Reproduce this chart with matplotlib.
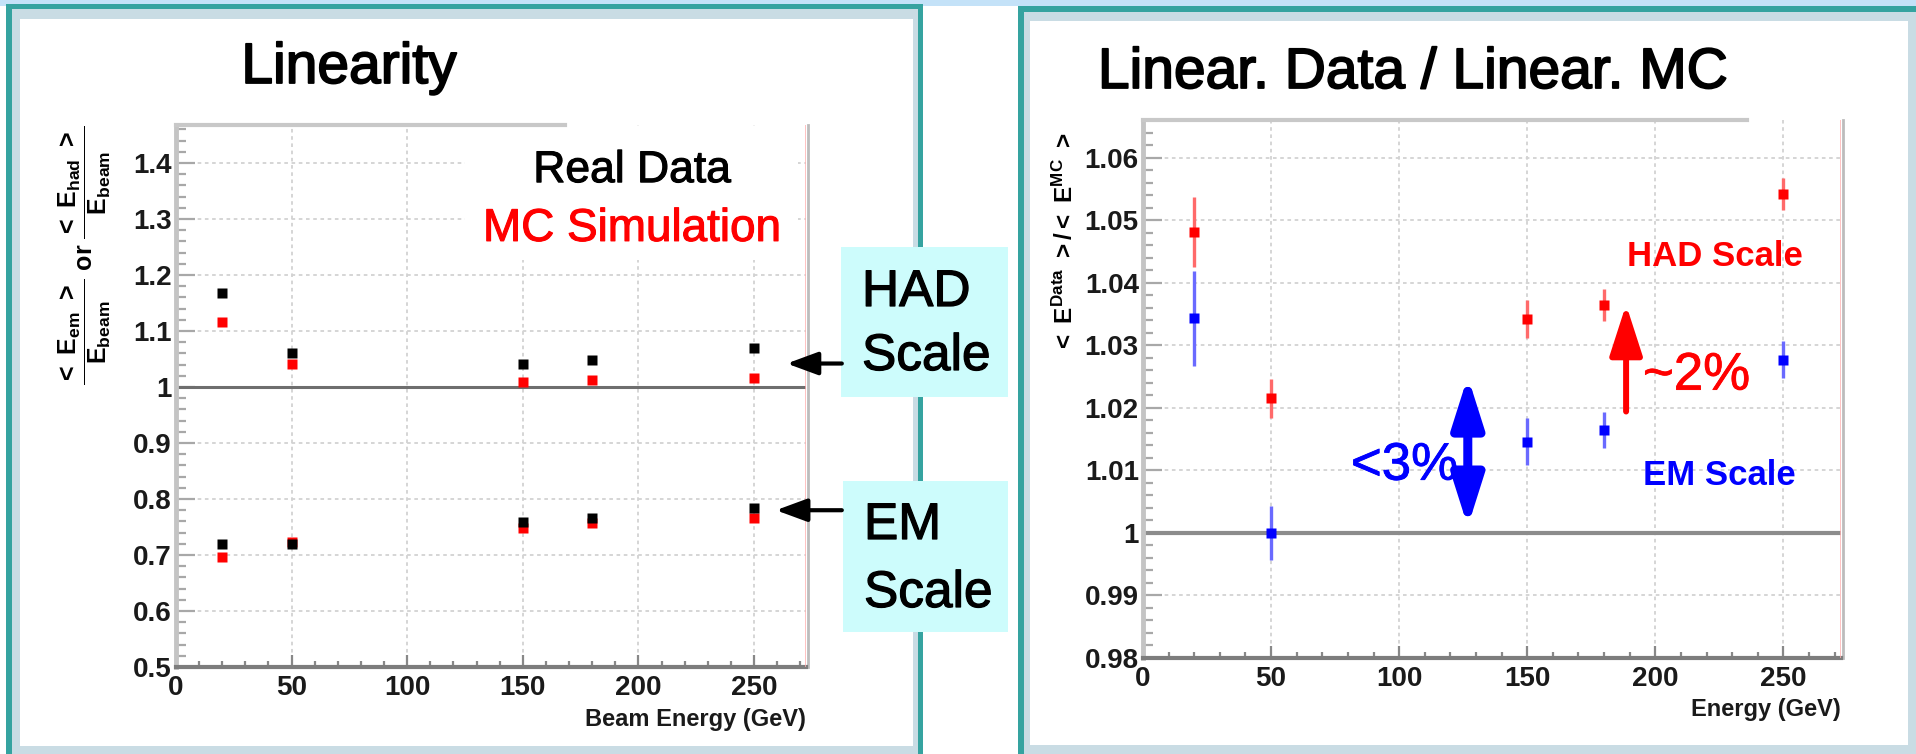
import matplotlib
matplotlib.use('Agg')
import matplotlib.pyplot as plt
import matplotlib.patheffects as pe
from matplotlib.patches import Rectangle, FancyArrowPatch, ArrowStyle
from matplotlib.ticker import MultipleLocator, FuncFormatter

plt.rcParams['font.family'] = ['Liberation Sans', 'DejaVu Sans']
plt.rcParams['mathtext.fontset'] = 'custom'
plt.rcParams['mathtext.rm'] = 'Liberation Sans:bold'
plt.rcParams['mathtext.it'] = 'Liberation Sans:bold'
plt.rcParams['mathtext.bf'] = 'Liberation Sans:bold'

# ---------------- data ----------------
energies = [20, 50, 150, 180, 250]
had_data = [1.168, 1.061, 1.042, 1.048, 1.070]
had_mc = [1.117, 1.042, 1.009, 1.0125, 1.016]
em_data = [0.720, 0.720, 0.7595, 0.7666, 0.7845]
em_mc = [0.697, 0.723, 0.748, 0.7566, 0.7655]

ratio_had = [1.0481, 1.0215, 1.0342, 1.0364, 1.0542]
ratio_had_err = [0.0056, 0.0031, 0.0031, 0.0026, 0.0026]
ratio_em = [1.0343, 1.0000, 1.0146, 1.0164, 1.0277]
ratio_em_err = [0.0076, 0.0043, 0.0037, 0.0029, 0.0029]

left_title = 'Linearity'
right_title = 'Linear. Data / Linear. MC'
left_xlabel = 'Beam Energy (GeV)'
right_xlabel = 'Energy (GeV)'
left_ylabel = (r'$\dfrac{<\ \mathrm{E}_{\mathrm{em}}\ >}{\mathrm{E}_{\mathrm{beam}}}$ or '
               r'$\dfrac{<\ \mathrm{E}_{\mathrm{had}}\ >}{\mathrm{E}_{\mathrm{beam}}}$')
right_ylabel = r'$<\ \mathrm{E}^{\mathrm{Data}}\ >/<\ \mathrm{E}^{\mathrm{MC}}\ >$'

TICK_FONT = ['Liberation Sans Narrow', 'Liberation Sans']

# ---------------- figure ----------------
W, H = 1916, 754
fig = plt.figure(figsize=(W / 100, H / 100), dpi=100)
fig.patch.set_facecolor('white')

bg = fig.add_axes([0, 0, 1, 1], zorder=0)
bg.set_xlim(0, W)
bg.set_ylim(H, 0)
bg.axis('off')

TEAL = '#35a3a0'
BAND = '#c9dce4'
CYAN = '#cdfcfc'


def heavy(color='black', w=1.0):
    return [pe.withStroke(linewidth=w, foreground=color)]


def rect(x0, y0, x1, y1, color):
    bg.add_patch(Rectangle((x0, y0), x1 - x0, y1 - y0, facecolor=color,
                           edgecolor='none'))


rect(0, 0, W, 6, '#c4e2f8')
# left panel frame
rect(6, 4, 923, H, TEAL)
rect(12, 9, 918, H, BAND)
rect(20, 19, 913, 746, 'white')
# right panel frame
rect(1018, 6, W, H, TEAL)
rect(1024, 12, W, H, BAND)
rect(1030, 21, 1908, 745, 'white')
# cyan boxes
rect(841, 247, 1008, 397, CYAN)
rect(843, 481, 1008, 632, CYAN)

for (x, y, s) in [(862, 306, 'HAD'), (862, 370, 'Scale'),
                  (864, 539, 'EM'), (864, 607, 'Scale')]:
    bg.text(x, y, s, fontsize=37, ha='left', va='baseline',
            path_effects=heavy(w=0.9))

bg.text(349, 83, left_title, fontsize=41, ha='center', va='baseline',
        path_effects=heavy(w=1.3))
bg.text(1413, 88, right_title, fontsize=41, ha='center', va='baseline',
        path_effects=heavy(w=1.3))

bg.text(85, 255, left_ylabel, rotation=90, fontsize=18, ha='center',
        va='center', fontweight='bold')
bg.text(1065, 243, right_ylabel, rotation=90, fontsize=17.5, ha='center',
        va='center')


def px_axes(x0, y0, x1, y1):
    return fig.add_axes([x0 / W, 1 - y1 / H, (x1 - x0) / W, (y1 - y0) / H],
                        zorder=2)


fmt = FuncFormatter(lambda v, p: f'{round(v, 6):g}')


def style(ax, xmax, ylo, yhi, ymaj, ymin_):
    ax.set_facecolor('none')
    ax.set_xlim(0, xmax)
    ax.set_ylim(ylo, yhi)
    ax.spines['top'].set_visible(False)
    ax.spines['left'].set_color('#c4c4c4')
    ax.spines['left'].set_linewidth(3.5)
    ax.spines['bottom'].set_color('#7d7d7d')
    ax.spines['bottom'].set_linewidth(3)
    ax.spines['right'].set_color('#bcbcbc')
    ax.spines['right'].set_linewidth(2)
    ax.spines['right'].set_position(('outward', 1.5))
    ax.xaxis.set_major_locator(MultipleLocator(50))
    ax.xaxis.set_minor_locator(MultipleLocator(10))
    ax.yaxis.set_major_locator(MultipleLocator(ymaj))
    ax.yaxis.set_minor_locator(MultipleLocator(ymin_))
    ax.xaxis.set_major_formatter(fmt)
    ax.yaxis.set_major_formatter(fmt)
    ax.tick_params(axis='y', which='major', direction='in', length=14,
                   width=1.6, color='#a8a8a8', pad=3, labelsize=20)
    ax.tick_params(axis='y', which='minor', direction='in', length=7,
                   width=1.6, color='#a8a8a8')
    ax.tick_params(axis='x', which='major', direction='in', length=9,
                   width=1.6, color='#888888', pad=6, labelsize=20)
    ax.tick_params(axis='x', which='minor', direction='in', length=4.5,
                   width=1.6, color='#888888')
    ax.grid(True, which='major', color='#d2d2d2', lw=1.3,
            linestyle=(0, (2, 2)))
    ax.set_axisbelow(True)
    for lab in ax.get_xticklabels() + ax.get_yticklabels():
        lab.set_fontweight('bold')
        lab.set_family(TICK_FONT)
        lab.set_color('#1a1a1a')
    ax.axvline(xmax, color='#ffb0b0', lw=1.8, zorder=3)


XMAX = 272.5

# ---------------- left plot ----------------
axL = px_axes(176, 125, 806, 667)
style(axL, XMAX, 0.5, 1.468, 0.1, 0.02)
axL.axhline(1.0, color='#6e6e6e', lw=2.2, zorder=1.5)
axL.add_patch(Rectangle((124.8, 1.227), 269 - 124.8, 1.462 - 1.227,
                        facecolor='white', edgecolor='none', zorder=1.2))
axL.axhline(1.468, xmax=0.617, color='#c8c8c8', lw=3, zorder=3, clip_on=False)

axL.plot(energies, had_mc, 's', color='#ff0000', ms=7.5, mec='none', zorder=4)
axL.plot(energies, em_mc, 's', color='#ff0000', ms=7.5, mec='none', zorder=4)
axL.plot(energies, had_data, 's', color='black', ms=7.5, mec='none', zorder=5)
axL.plot(energies, em_data, 's', color='black', ms=7.5, mec='none', zorder=5)

axL.text(197.3, 1.366, 'Real Data', fontsize=32, ha='center', va='baseline',
         zorder=6, path_effects=heavy(w=0.8))
axL.text(197.3, 1.261, 'MC Simulation', fontsize=33, color='#ff0000',
         ha='center', va='baseline', zorder=6,
         path_effects=heavy('#ff0000', 0.8))
axL.set_xlabel(left_xlabel, loc='right', fontsize=17, fontweight='bold',
               labelpad=5, color='#1a1a1a')

for (tail, tip) in [((288, 1.042), (264.2, 1.042)),
                    ((288, 0.780), (259.5, 0.780))]:
    axL.add_patch(FancyArrowPatch(tail, tip,
                                  arrowstyle=ArrowStyle('-|>', head_length=19,
                                                        head_width=7),
                                  mutation_scale=1, lw=3, color='black',
                                  shrinkA=0, shrinkB=0, clip_on=False,
                                  zorder=7))

# ---------------- right plot ----------------
axR = px_axes(1143, 120, 1841, 658)
style(axR, XMAX, 0.98, 1.066, 0.01, 0.002)
axR.axhline(1.0, color='#8c8c8c', lw=3, zorder=1.5)
axR.axhline(1.066, xmax=0.865, color='#c8c8c8', lw=3, zorder=3, clip_on=False)

axR.errorbar(energies, ratio_had, yerr=ratio_had_err, fmt='s',
             color='#ff0000', ms=7, mec='none', ecolor='#ff6a6a',
             elinewidth=2.4, capsize=0, zorder=4)
axR.errorbar(energies, ratio_em, yerr=ratio_em_err, fmt='s',
             color='#0000ff', ms=7, mec='none', ecolor='#6a6aff',
             elinewidth=2.4, capsize=0, zorder=4)

axR.text(223.4, 1.0426, 'HAD Scale', fontsize=25, fontweight='bold',
         color='#ff0000', ha='center', va='baseline', zorder=6)
axR.text(225, 1.0077, 'EM Scale', fontsize=25, fontweight='bold',
         color='#0000ff', ha='center', va='baseline', zorder=6)
axR.text(195.2, 1.0229, '~2%', fontsize=38, color='#ff0000', ha='left',
         va='baseline', zorder=6, path_effects=heavy('#ff0000', 0.6))
axR.text(123, 1.0085, '<3%', fontsize=38, color='#0000ff', ha='right',
         va='baseline', zorder=6, path_effects=heavy('#0000ff', 0.6))

axR.add_patch(FancyArrowPatch((126.8, 1.001), (126.8, 1.025),
                              arrowstyle=ArrowStyle('<|-|>', head_length=30,
                                                    head_width=9.5),
                              mutation_scale=1, lw=6.5, color='#0000ff',
                              shrinkA=0, shrinkB=0, zorder=6))
axR.add_patch(FancyArrowPatch((188.6, 1.0194), (188.6, 1.0365),
                              arrowstyle=ArrowStyle('-|>', head_length=31,
                                                    head_width=10),
                              mutation_scale=1, lw=4.3, color='#ff0000',
                              shrinkA=0, shrinkB=0, zorder=6))
axR.set_xlabel(right_xlabel, loc='right', fontsize=17, fontweight='bold',
               labelpad=4, color='#1a1a1a')

fig.savefig('out.png', dpi=100, facecolor='white')
